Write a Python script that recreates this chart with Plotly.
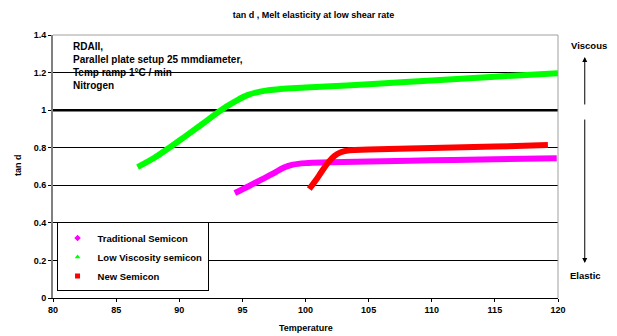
import plotly.graph_objects as go

# Traditional Semicon (magenta)
trad_x = [94.4, 95.5, 96.5, 97.5, 98.3, 99.0, 100.0, 102.0, 105.0, 110.0, 115.0, 119.9]
trad_y = [0.559, 0.595, 0.630, 0.665, 0.695, 0.710, 0.718, 0.722, 0.727, 0.733, 0.739, 0.744]

# Low Viscosity semicon (green)
low_x = [86.7, 88.0, 89.3, 90.5, 91.8, 93.3, 94.4, 95.4, 96.5, 98.0, 100.0, 105.0, 110.0, 115.0, 120.0]
low_y = [0.697, 0.745, 0.804, 0.862, 0.925, 1.000, 1.045, 1.080, 1.100, 1.112, 1.120, 1.138, 1.158, 1.178, 1.197]

# New Semicon (red)
new_x = [100.3, 100.8, 101.3, 101.8, 102.3, 102.8, 103.5, 105.0, 110.0, 115.0, 119.2]
new_y = [0.580, 0.625, 0.675, 0.722, 0.757, 0.776, 0.786, 0.790, 0.798, 0.806, 0.814]

# Reference level tan d = 1
ref_x = [80, 120]
ref_y = [1.0, 1.0]

names = ["Traditional Semicon", "Low Viscosity semicon", "New Semicon"]
colors = ["#FF00FF", "#00FF00", "#FF0000"]
symbols = ["diamond", "triangle-up", "square"]

x_ticks = [80, 85, 90, 95, 100, 105, 110, 115, 120]
y_ticks = [0, 0.2, 0.4, 0.6, 0.8, 1.0, 1.2, 1.4]
y_labels = ["0", "0.2", "0.4", "0.6", "0.8", "1", "1.2", "1.4"]

FONT = "Liberation Sans, Arial, sans-serif"

fig = go.Figure()
fig.add_trace(go.Scatter(x=ref_x, y=ref_y, mode="lines", line=dict(color="black", width=2.5),
                         showlegend=False, hoverinfo="skip"))
for xs, ys, c in [(low_x, low_y, colors[1]), (trad_x, trad_y, colors[0]), (new_x, new_y, colors[2])]:
    fig.add_trace(go.Scatter(x=xs, y=ys, mode="lines", line=dict(color=c, width=6, shape="spline"),
                             showlegend=False))
for i, (n, c, s) in enumerate(zip(names, colors, symbols)):
    fig.add_trace(go.Scatter(x=[None], y=[None], mode="markers", name=f"<b>{n}</b>",
                             legendgroup=f"g{i}",
                             marker=dict(color=c, symbol=s, size=5)))

fig.update_layout(
    width=617, height=336, autosize=False,
    margin=dict(l=53, r=59, t=35, b=38, autoexpand=False),
    paper_bgcolor="white", plot_bgcolor="white",
    font=dict(family=FONT, size=9, color="black"),
    title=dict(text="<b>tan d , Melt elasticity at low shear rate</b>", x=0.508, xanchor="center",
               y=0.955, yanchor="middle", font=dict(size=9)),
    showlegend=True,
    legend=dict(x=0.007, y=0.025, xanchor="left", yanchor="bottom", bordercolor="black", borderwidth=1,
                bgcolor="white", font=dict(size=9.5, family=FONT), itemwidth=30, tracegroupgap=0),
    xaxis=dict(range=[80, 120], tickvals=x_ticks, ticktext=[f"<b>{v}</b>" for v in x_ticks],
               showgrid=False, zeroline=False, showline=True, linecolor="black", linewidth=1,
               ticks="outside", ticklen=3, tickcolor="black", automargin=False),
    yaxis=dict(range=[0, 1.4], tickvals=y_ticks, ticktext=[f"<b>{v}</b>" for v in y_labels],
               showgrid=True, gridcolor="black", gridwidth=1, zeroline=False,
               showline=True, linecolor="#808080", linewidth=2,
               ticks="outside", ticklen=3, tickcolor="black", automargin=False),
    shapes=[dict(type="line", xref="paper", yref="paper", x0=0, x1=1, y0=1, y1=1,
                 line=dict(color="#A0A0A0", width=1), layer="above"),
            dict(type="line", xref="paper", yref="paper", x0=1, x1=1, y0=0, y1=1,
                 line=dict(color="#A0A0A0", width=1), layer="above")],
    annotations=[
        dict(text="<b>Temperature</b>", xref="paper", yref="paper", x=0.5, y=-0.114,
             xanchor="center", yanchor="middle", showarrow=False, font=dict(size=9)),
        dict(text="<b>tan d</b>", xref="paper", yref="paper", x=-0.069, y=0.506, textangle=-90,
             xanchor="center", yanchor="middle", showarrow=False, font=dict(size=9)),
        dict(text="<b>RDAII,<br>Parallel plate setup 25 mmdiameter,<br>Temp ramp 1°C / min<br>Nitrogen</b>",
             xref="paper", yref="paper", x=0.036, y=0.985, xanchor="left", yanchor="top",
             align="left", showarrow=False, font=dict(size=10)),
        dict(text="<b>Viscous</b>", xref="paper", yref="y", x=1.061, y=1.346, showarrow=False,
             xanchor="center", yanchor="middle", font=dict(size=9.5)),
        dict(text="<b>Elastic</b>", xref="paper", yref="y", x=1.055, y=0.122, showarrow=False,
             xanchor="center", yanchor="middle", font=dict(size=9.5)),
        dict(text="", xref="paper", yref="y", x=1.053, y=1.283, ax=0, ay=49, showarrow=True,
             arrowhead=2, arrowsize=1, arrowwidth=1, arrowcolor="black"),
        dict(text="", xref="paper", yref="y", x=1.053, y=0.186, ax=0, ay=-145, showarrow=True,
             arrowhead=2, arrowsize=1, arrowwidth=1, arrowcolor="black"),
    ],
)

fig.write_html("out.html",
               config={"displayModeBar": False, "responsive": False},
               post_script="document.body.style.margin='0';document.body.style.overflow='hidden';")
